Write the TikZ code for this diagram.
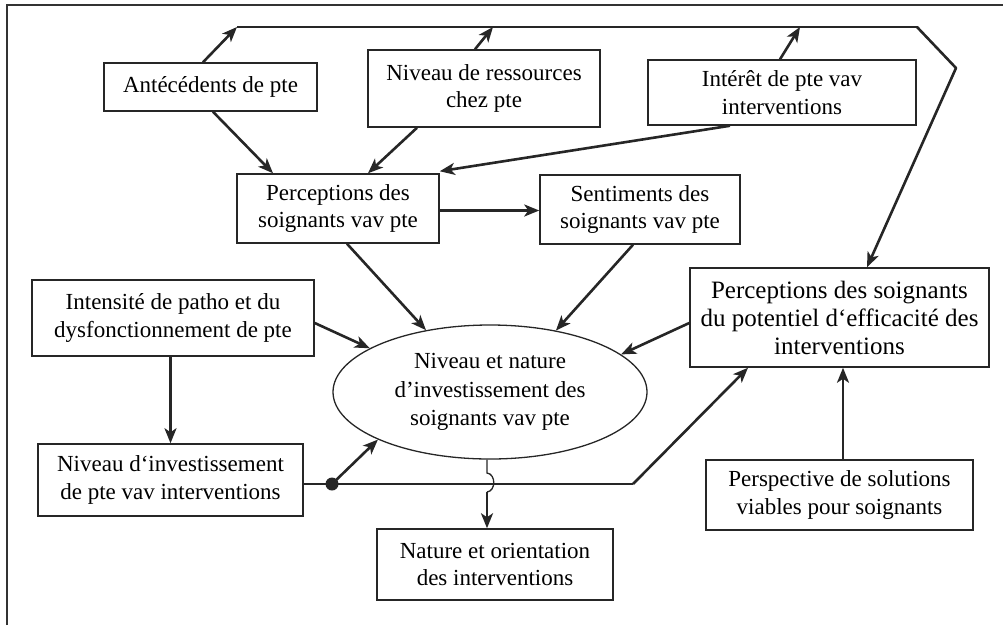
\documentclass[tikz,border=0pt]{standalone}
\usepackage{fontspec}
\setmainfont{Liberation Serif}
\usetikzlibrary{arrows.meta,shapes.geometric}
\begin{document}
\begin{tikzpicture}[x=1pt,y=-1pt,
  box/.style={draw=black!85,line width=1.5pt,inner sep=0pt,align=center,
    font=\fontsize{23}{27.5}\selectfont},
  bigbox/.style={box,font=\fontsize{25}{28}\selectfont},
  oval/.style={ellipse,draw=black!85,line width=1.3pt,inner sep=0pt,align=center,
    font=\fontsize{23}{28.5}\selectfont},
  arr/.style={draw=black!85,line width=2.6pt,-{Stealth[length=15pt,width=12pt,inset=4pt]}},
  link/.style={draw=black!85,line width=1.7pt},
]
\useasboundingbox (0,0) rectangle (1003,625);
% partial outer frame
\draw[black!80,line width=2pt] (7,625) -- (7,5) -- (1003,5);

% boxes
\node[box,minimum width=213pt,minimum height=48pt] (ant) at (210.5,87) {Antécédents de pte};
\node[box,minimum width=232pt,minimum height=77pt] (res) at (484,88.5) {Niveau de ressources\\chez pte};
\node[box,minimum width=268pt,minimum height=65pt] (inter) at (782,92.5) {Intérêt de pte vav\\interventions};
\node[box,minimum width=202pt,minimum height=69pt] (perc) at (338,208.5) {Perceptions des\\soignants vav pte};
\node[box,minimum width=200pt,minimum height=69pt] (sent) at (640,209.5) {Sentiments des\\soignants vav pte};
\node[box,minimum width=282pt,minimum height=76pt] (inten) at (173,318) {Intensité de patho et du\\dysfonctionnement de pte};
\node[bigbox,minimum width=299pt,minimum height=99pt] (pot) at (839.5,317.5) {Perceptions des soignants\\du potentiel d‘efficacité des\\interventions};
\node[oval,minimum width=314pt,minimum height=134pt] (ell) at (490,392) {Niveau et nature\\d’investissement des\\soignants vav pte};
\node[box,minimum width=265pt,minimum height=72pt] (nivinv) at (170.5,480) {Niveau d‘investissement\\de pte vav interventions};
\node[box,minimum width=236pt,minimum height=71pt] (nat) at (495,564.5) {Nature et orientation\\des interventions};
\node[box,minimum width=267pt,minimum height=70pt] (persp) at (839.5,495) {Perspective de solutions\\viables pour soignants};

% junction points
\coordinate (t1) at (237,27);
\coordinate (t2) at (493,27);
\coordinate (t3) at (800,27);
\coordinate (tr1) at (917,27);
\coordinate (tr2) at (956,68);
\coordinate (dot) at (332,484);
\coordinate (bend) at (633,484);
\coordinate (hopa) at (487,473);
\coordinate (hopb) at (487,492);

% upper feedback line
\draw[arr] ([xshift=-7.5pt]ant.north) -- (t1);
\draw[arr] ([xshift=-9pt]res.north) -- (t2);
\draw[arr] ([xshift=-2pt]inter.north) -- (t3);
\draw[link] (t1) -- (tr1);
\draw[arr,line cap=round,line join=round] (tr1) -- (tr2) -- ([xshift=27.5pt]pot.north);

% into perceptions
\draw[arr] ([xshift=2.5pt]ant.south) -- ([xshift=-65pt]perc.north);
\draw[arr] ([xshift=-67pt]res.south) -- ([xshift=30pt]perc.north);
\draw[arr] ([xshift=-52pt]inter.south) -- ([yshift=2pt]perc.north east);
\draw[arr] ([yshift=-2pt]perc.east) -- ([yshift=-1pt]sent.west);

% into the central oval
\draw[arr] ([xshift=9pt]perc.south) -- (ell.136);
\draw[arr] ([xshift=-7pt]sent.south) -- (ell.43);
\draw[arr] ([yshift=-5pt]inten.east) -- (ell.160);
\draw[arr] ([yshift=-5.5pt]pot.west) -- (ell.16);
\draw[arr] (inten.south -| nivinv.north) -- (nivinv.north);
\draw[arr] (dot) -- (ell.203);
\fill[black!85] (dot) circle (6.5pt);

% lower link to the efficacy box
\draw[link] ([yshift=-4pt]nivinv.east) -- (bend);
\draw[arr] (bend) -- ([xshift=-91.5pt]pot.south);
\draw[arr] ([xshift=3.5pt]persp.north) -- ([xshift=3.5pt]pot.south);

% oval to interventions, hopping over the lower link
\draw[draw=black!85,line width=1.3pt] ([xshift=-3pt]ell.south) -- (hopa)
  .. controls (496,474) and (496,491) .. (hopb);
\draw[arr] (hopb) -- ([xshift=-8pt]nat.north);
\end{tikzpicture}
\end{document}
